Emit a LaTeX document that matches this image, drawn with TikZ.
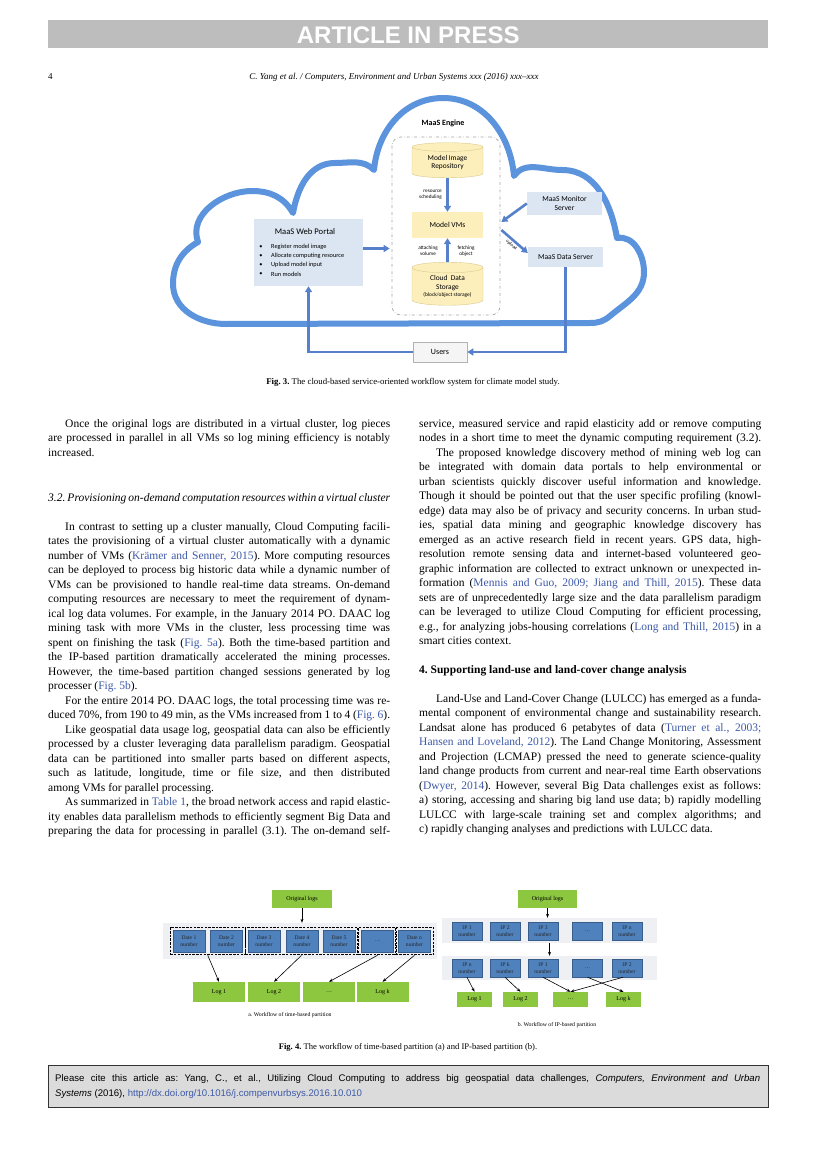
\documentclass[tikz,border=0pt]{standalone}
\usepackage{fontspec}
\setmainfont{Liberation Serif}
\newfontfamily\carlito{Carlito}
\newfontfamily\arial{Liberation Sans}
\usetikzlibrary{arrows.meta,shapes.geometric,fit,positioning}

\definecolor{hdgray}{HTML}{BDBDBD}
\definecolor{cloudblue}{HTML}{5B93DD}
\definecolor{flowblue}{HTML}{5680CC}
\definecolor{portalblue}{HTML}{DCE6F2}
\definecolor{dbyellow}{HTML}{FCEFBC}
\definecolor{dbedge}{HTML}{D9C98A}
\definecolor{linkblue}{HTML}{3D5AA8}
\definecolor{loggreen}{HTML}{8DC63F}
\definecolor{ipblue}{HTML}{4F81BD}
\definecolor{ipedge}{HTML}{385D8A}
\definecolor{stripgray}{HTML}{EEF0F3}

\frenchspacing
\newlength\colw \setlength\colw{342pt}
\newcommand\lk[1]{\textcolor{linkblue}{#1}}
\newcommand\jl[1]{\hbox to\colw{#1}}
\newcommand\lastl[1]{\hbox{#1}}
\newcommand\ind{\kern17pt}
\newcommand\bodyfont{\fontsize{11.5}{14.5}\selectfont}

\begin{document}
\begin{tikzpicture}[x=1pt, y=1pt,
    every node/.style={inner sep=0pt},
    cloudline/.style={draw=cloudblue, line width=6pt, line join=round},
    flow/.style={draw=flowblue, line width=2.6pt, -{Triangle[length=6pt,width=7pt]}},
    db/.style={cylinder, shape border rotate=90, aspect=0.22, draw=dbedge, line width=.4pt,
      cylinder uses custom fill, cylinder body fill=dbyellow, cylinder end fill=dbyellow,
      font=\carlito\fontsize{7.4}{8.8}\selectfont, align=center},
    srvbox/.style={fill=portalblue, font=\carlito\fontsize{7.6}{9}\selectfont, align=center},
    tinylbl/.style={font=\carlito\fontsize{5.2}{6}\selectfont, align=center},
    logbox/.style={fill=loggreen, font=\fontsize{6}{7}\selectfont},
    ipbox/.style={fill=ipblue, draw=ipedge, line width=.5pt, text=black!85,
      font=\fontsize{5.6}{6.4}\selectfont, align=center},
    grp/.style={draw=black, line width=1.1pt, dash pattern=on 2.5pt off 1.2pt, inner sep=2.5pt},
    strip/.style={fill=stripgray},
    thinarrow/.style={draw=black, line width=.6pt, -{Stealth[length=4pt,width=3pt]}}]
  \useasboundingbox[fill=white] (0,0) rectangle (827,-1169);

  % header
  \node[fill=hdgray, minimum width=720, minimum height=28, anchor=north west] (bar) at (48,-20) {};
  \node[text=white, font=\arial\bfseries\fontsize{24}{24}\selectfont] (press) at ([yshift=-1pt]bar) {ARTICLE IN PRESS};
  \node[font=\fontsize{9}{10}\selectfont, anchor=base west] (pageno) at (48,-80) {4};
  \node[font=\itshape\fontsize{9}{10}\selectfont, anchor=base] (runhead) at (394,-80)
    {C. Yang et al. / Computers, Environment and Urban Systems xxx (2016) xxx--xxx};

  % Fig. 3: cloud
  \draw[cloudline] (226,-324) to[out=180,in=-90] (173,-284) to[out=90,in=-150] (198,-242)
    to[out=110,in=180] (252,-191) to[out=0,in=120] (293,-213)
    to[out=80,in=180] (335,-163) to[out=0,in=135] (374,-170)
    to[out=85,in=180] (443,-98) to[out=0,in=95] (514,-176)
    to[out=55,in=180] (562,-170) to[out=0,in=100] (617,-238)
    to[out=10,in=90] (644,-272) to[out=-90,in=40] (610,-316)
    to[out=-140,in=0] (590,-323) -- cycle;

  \node[font=\carlito\bfseries\fontsize{8}{9}\selectfont] (engtitle) at (443,-123) {MaaS Engine};
  \node[draw=gray!70, dash dot, line width=.7pt, rounded corners=9pt,
    minimum width=108, minimum height=178] (engine) at (446,-226) {};
  \node[db, minimum width=71, minimum height=35] (repo) at (447.5,-162.5) {Model Image\\Repository};
  \node[fill=dbyellow, minimum width=71, minimum height=26, font=\carlito\fontsize{7.6}{9}\selectfont] (vms) at (447.5,-225) {Model VMs};
  \node[db, minimum width=71, minimum height=43] (store) at (447.5,-286.5)
    {Cloud\ \ Data\\Storage\\[-1pt]{\fontsize{5.4}{6}\selectfont(block/object storage)}};
  \node[tinylbl, anchor=east, align=right] (sched) at (442,-195) {resource\\scheduling};
  \node[tinylbl] (attach) at (428,-251) {attaching\\volume};
  \node[tinylbl] (fetch) at (466,-251) {fetching\\object};

  \node[fill=portalblue, minimum width=109, minimum height=67] (portal) at (308.5,-252.5) {};
  \node[font=\carlito\fontsize{8.6}{10}\selectfont] (ptitle) at (305,-232) {MaaS Web Portal};
  \foreach \t [count=\i] in {Register model image, Allocate computing resource, Upload model input, Run models} {
    \node[font=\carlito\fontsize{6.3}{7}\selectfont] (pd\i) at (261,-238-9*\i) {\textbullet};
    \node[anchor=west, font=\carlito\fontsize{6.3}{7}\selectfont] (pb\i) at (271,-238-9*\i) {\t};
  }
  \node[srvbox, minimum width=75, minimum height=23] (monitor) at (564.5,-203.5) {MaaS Monitor\\Server};
  \node[srvbox, minimum width=75, minimum height=20] (data) at (565.5,-257) {MaaS Data Server};
  \node[fill=gray!8, draw=gray!60, line width=.6pt, minimum width=54, minimum height=20,
    font=\carlito\fontsize{8}{9}\selectfont] (users) at (440,-352) {Users};

  \draw[flow] (repo.south) -- (vms.north);
  \draw[flow] (store.north) -- (vms.south);
  \draw[flow] ([yshift=4pt]portal.east) -- ([yshift=4pt,xshift=-2pt]portal.east -| engine.west);
  \draw[flow] (monitor.west) -- ([yshift=4pt,xshift=1pt]engine.east);
  \draw[flow] ([yshift=-4pt,xshift=1pt]engine.east) -- node[sloped, below=1.5pt, font=\carlito\fontsize{4.6}{5}\selectfont] {upload} ([yshift=4pt]data.west);
  \draw[flow] (data.south) |- (users.east);
  \draw[flow] (users.west) -| (portal.south);

  \node[font=\fontsize{8.8}{10}\selectfont] (cap3) at (413,-382)
    {\textbf{Fig. 3.} The cloud-based service-oriented workflow system for climate model study.};

  % body text, left column
  \node[anchor=base west, font=\bodyfont] (colA) at (48,-427) {\vtop{%
    \jl{\ind Once the original logs are distributed in a virtual cluster, log pieces}
    \jl{are processed in parallel in all VMs so log mining efficiency is notably}
    \lastl{increased.}}};
  \node[anchor=base west, font=\itshape\bodyfont] (sec32) at (48,-501)
    {\jl{3.2. Provisioning on-demand computation resources within a virtual cluster}};
  \node[anchor=base west, font=\bodyfont] (colB) at (48,-530) {\vtop{%
    \jl{\ind In contrast to setting up a cluster manually, Cloud Computing facili-}
    \jl{tates the provisioning of a virtual cluster automatically with a dynamic}
    \jl{number of VMs (\lk{Krämer and Senner, 2015}). More computing resources}
    \jl{can be deployed to process big historic data while a dynamic number of}
    \jl{VMs can be provisioned to handle real-time data streams. On-demand}
    \jl{computing resources are necessary to meet the requirement of dynam-}
    \jl{ical log data volumes. For example, in the January 2014 PO. DAAC log}
    \jl{mining task with more VMs in the cluster, less processing time was}
    \jl{spent on finishing the task (\lk{Fig. 5a}). Both the time-based partition and}
    \jl{the IP-based partition dramatically accelerated the mining processes.}
    \jl{However, the time-based partition changed sessions generated by log}
    \lastl{processer (\lk{Fig. 5b}).}
    \jl{\ind For the entire 2014 PO. DAAC logs, the total processing time was re-}
    \jl{duced 70\%, from 190 to 49 min, as the VMs increased from 1 to 4 (\lk{Fig. 6}).}
    \jl{\ind Like geospatial data usage log, geospatial data can also be efficiently}
    \jl{processed by a cluster leveraging data parallelism paradigm. Geospatial}
    \jl{data can be partitioned into smaller parts based on different aspects,}
    \jl{such as latitude, longitude, time or file size, and then distributed}
    \lastl{among VMs for parallel processing.}
    \jl{\ind As summarized in \lk{Table 1}, the broad network access and rapid elastic-}
    \jl{ity enables data parallelism methods to efficiently segment Big Data and}
    \jl{preparing the data for processing in parallel (3.1). The on-demand self-}}};

  % body text, right column
  \node[anchor=base west, font=\bodyfont] (colC) at (419,-427) {\vtop{%
    \jl{service, measured service and rapid elasticity add or remove computing}
    \jl{nodes in a short time to meet the dynamic computing requirement (3.2).}
    \jl{\ind The proposed knowledge discovery method of mining web log can}
    \jl{be integrated with domain data portals to help environmental or}
    \jl{urban scientists quickly discover useful information and knowledge.}
    \jl{Though it should be pointed out that the user specific profiling (knowl-}
    \jl{edge) data may also be of privacy and security concerns. In urban stud-}
    \jl{ies, spatial data mining and geographic knowledge discovery has}
    \jl{emerged as an active research field in recent years. GPS data, high-}
    \jl{resolution remote sensing data and internet-based volunteered geo-}
    \jl{graphic information are collected to extract unknown or unexpected in-}
    \jl{formation (\lk{Mennis and Guo, 2009; Jiang and Thill, 2015}). These data}
    \jl{sets are of unprecedentedly large size and the data parallelism paradigm}
    \jl{can be leveraged to utilize Cloud Computing for efficient processing,}
    \jl{e.g., for analyzing jobs-housing correlations (\lk{Long and Thill, 2015}) in a}
    \lastl{smart cities context.}}};
  \node[anchor=base west, font=\bfseries\bodyfont] (sec4) at (419,-673)
    {4. Supporting land-use and land-cover change analysis};
  \node[anchor=base west, font=\bodyfont] (colD) at (419,-702) {\vtop{%
    \jl{\ind Land-Use and Land-Cover Change (LULCC) has emerged as a funda-}
    \jl{mental component of environmental change and sustainability research.}
    \jl{Landsat alone has produced 6 petabytes of data (\lk{Turner et al., 2003;}}
    \jl{\lk{Hansen and Loveland, 2012}). The Land Change Monitoring, Assessment}
    \jl{and Projection (LCMAP) pressed the need to generate science-quality}
    \jl{land change products from current and near-real time Earth observations}
    \jl{(\lk{Dwyer, 2014}). However, several Big Data challenges exist as follows:}
    \jl{a) storing, accessing and sharing big land use data; b) rapidly modelling}
    \jl{LULCC with large-scale training set and complex algorithms; and}
    \lastl{c) rapidly changing analyses and predictions with LULCC data.}}};

  % Fig. 4a: time-based partition
  \node[logbox, minimum width=60, minimum height=18] (oga) at (302,-899) {Original logs};
  \node[strip, minimum width=274, minimum height=36] (stripa) at (300,-941) {};
  \foreach \x/\t [count=\i] in {189/{Date 1\\number}, 226.5/{Date 2\\number}, 264/{Date 3\\number},
      302/{Date 4\\number}, 339/{Date 5\\number}, 377.5/{\ldots}, 414.5/{Date n\\number}}
    \node[ipbox, minimum width=32, minimum height=22] (d\i) at (\x,-941) {\t};
  \node[grp, fit=(d1)(d2)] (g1) {};
  \node[grp, fit=(d3)(d5)] (g2) {};
  \node[grp, fit=(d6)] (g3) {};
  \node[grp, fit=(d7)] (g4) {};
  \foreach \x/\t [count=\i] in {219/Log 1, 274/Log 2, 329/\ldots, 382.5/Log k}
    \node[logbox, minimum width=52, minimum height=20] (la\i) at (\x,-992) {\t};
  \draw[thinarrow] (oga.south) -- (oga.south |- stripa.north);
  \foreach \i in {1,...,4}
    \draw[thinarrow] (g\i.south) -- (la\i.north);
  \node[font=\fontsize{5.8}{7}\selectfont] (capa) at (290,-1015) {a. Workflow of time-based partition};

  % Fig. 4b: IP-based partition
  \node[logbox, minimum width=59, minimum height=18] (ogb) at (547.5,-899) {Original logs};
  \node[strip, minimum width=215, minimum height=25] (stripb1) at (549.5,-930.5) {};
  \node[strip, minimum width=215, minimum height=24] (stripb2) at (549.5,-968) {};
  \foreach \x/\t [count=\i] in {467/{IP 1\\number}, 505/{IP 2\\number}, 543/{IP 3\\number},
      587.5/{\ldots}, 627/{IP n\\number}}
    \node[ipbox, minimum width=30, minimum height=18] (p\i) at (\x,-931) {\t};
  \foreach \x/\t [count=\i] in {467/{IP n\\number}, 505/{IP k\\number}, 543/{IP 1\\number},
      587.5/{\ldots}, 627/{IP 2\\number}}
    \node[ipbox, minimum width=30, minimum height=18] (q\i) at (\x,-968) {\t};
  \foreach \x/\t [count=\i] in {474.5/Log 1, 520.5/Log 2, 570.5/\ldots, 623.5/Log k}
    \node[logbox, minimum width=35, minimum height=15] (lb\i) at (\x,-999.5) {\t};
  \draw[thinarrow] (ogb.south) -- (ogb.south |- stripb1.north);
  \draw[thinarrow] (stripb1) -- (stripb2);
  \draw[thinarrow] (q1.south) -- (lb1.north);
  \draw[thinarrow] (q2.south) -- (lb2.north);
  \draw[thinarrow] (q3.south) -- (lb3.north);
  \draw[thinarrow] ([xshift=-4pt]q5.south) -- (lb3.north);
  \draw[thinarrow] (q4.south) -- (lb4.north);
  \node[font=\fontsize{5.8}{7}\selectfont] (capb) at (557,-1025) {b. Workflow of IP-based partition};

  \node[font=\fontsize{8.6}{10}\selectfont] (cap4) at (408,-1047)
    {\textbf{Fig. 4.} The workflow of time-based partition (a) and IP-based partition (b).};

  % citation box
  \node[draw=black!80, line width=.8pt, fill=black!14, minimum width=720, minimum height=42,
    anchor=north west] (cite) at (48,-1065) {};
  \node[anchor=base west, font=\arial\fontsize{9.6}{15}\selectfont] (citetext) at (55,-1081) {\vtop{%
    \hbox to 705pt{Please cite this article as: Yang, C., et al., Utilizing Cloud Computing to address big geospatial data challenges, \textit{Computers, Environment and Urban}}
    \hbox{\textit{Systems} (2016), \lk{http://dx.doi.org/10.1016/j.compenvurbsys.2016.10.010}}}};
\end{tikzpicture}
\end{document}
